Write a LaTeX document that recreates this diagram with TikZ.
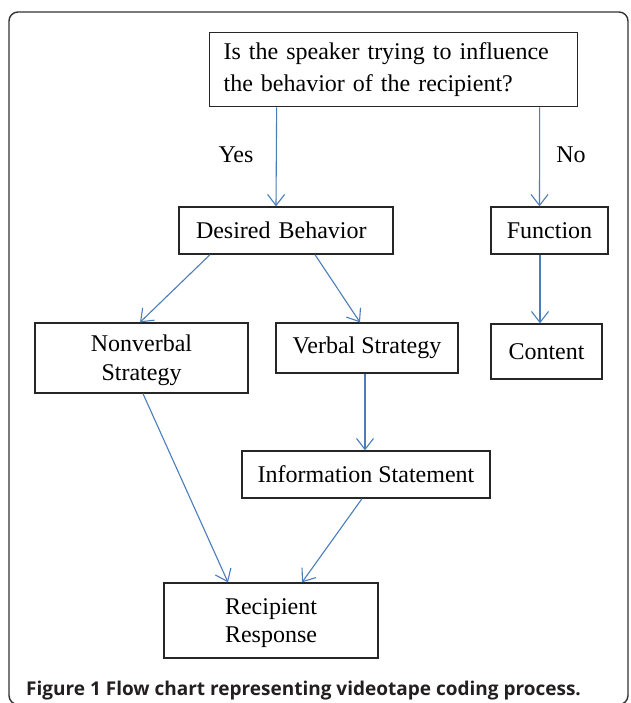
\documentclass[tikz,border=0pt]{standalone}
\usepackage{fontspec}
\setmainfont{Liberation Serif}
\newfontfamily\capfont{Open Sans}
\usetikzlibrary{arrows.meta}
\definecolor{arrowblue}{HTML}{4A7EBB}
\definecolor{captext}{HTML}{231F20}
\begin{document}
\begin{tikzpicture}[x=1pt,y=-1pt,
  box/.style={draw=black!85, line width=1.3pt, inner sep=0pt, align=center,
    font=\fontsize{24}{29}\selectfont},
  link/.style={draw=arrowblue, line width=1.1pt, -{Straight Barb[length=11pt,width=17pt]}},
  lbl/.style={inner sep=0pt, font=\fontsize{24}{29}\selectfont}]
\useasboundingbox (0,0) rectangle (630,703);
\fill[white] (0,0) rectangle (630,703);
\draw[black!80, line width=1.4pt, rounded corners=9pt] (9,12) rectangle (628,704.5);

\node[box, anchor=north west, minimum width=368pt, minimum height=74pt, text width=340pt,
  align=left, font=\fontsize{24}{32}\selectfont] (q) at (209,32)
  {Is the speaker trying to influence\\the behavior of the recipient?};
\node[box, minimum width=214pt, minimum height=47pt, text width=180pt, align=left] (desired) at (286,230.5) {Desired Behavior};
\node[box, minimum width=117pt, minimum height=47pt] (function) at (549.5,230.5) {Function};
\node[box, minimum width=111pt, minimum height=55pt] (content) at (546.5,351.5) {Content};
\node[box, minimum width=213pt, minimum height=70pt, text depth=0pt] (nonverbal) at (141.5,358) {Nonverbal\\Strategy};
\node[box, minimum width=182pt, minimum height=50pt] (verbal) at (367,348) {Verbal Strategy};
\node[box, minimum width=248pt, minimum height=47pt] (info) at (366,474.5) {Information Statement};
\node[box, minimum width=214pt, minimum height=75pt, text depth=0pt, font=\fontsize{24}{28}\selectfont] (recip) at (271,620.5) {Recipient\\Response};

\node[lbl] (yes) at (236,155) {Yes};
\node[lbl] (no) at (571,155) {No};

\draw[link] ([xshift=-117pt]q.south) -- ([xshift=-10pt]desired.north);
\draw[link] ([xshift=146pt]q.south) -- ([xshift=-10pt]function.north);
\draw[link] ([xshift=-9.5pt]function.south) -- ([xshift=-6.5pt]content.north);
\draw[link] ([xshift=-76pt]desired.south) -- ([xshift=-1.5pt]nonverbal.north);
\draw[link] ([xshift=29pt]desired.south) -- ([xshift=-7pt]verbal.north);
\draw[link] ([xshift=-2pt]verbal.south) -- ([xshift=-1pt]info.north);
\draw[link] ([xshift=1.5pt]nonverbal.south) -- ([xshift=-43pt]recip.north);
\draw[link] ([xshift=-4pt]info.south) -- ([xshift=31pt]recip.north);

\node[anchor=base west, inner sep=0pt, text=captext, font=\capfont\bfseries\fontsize{19}{23}\selectfont] (cap) at (26,695)
  {Figure 1 Flow chart representing videotape coding process.};
\end{tikzpicture}
\end{document}
